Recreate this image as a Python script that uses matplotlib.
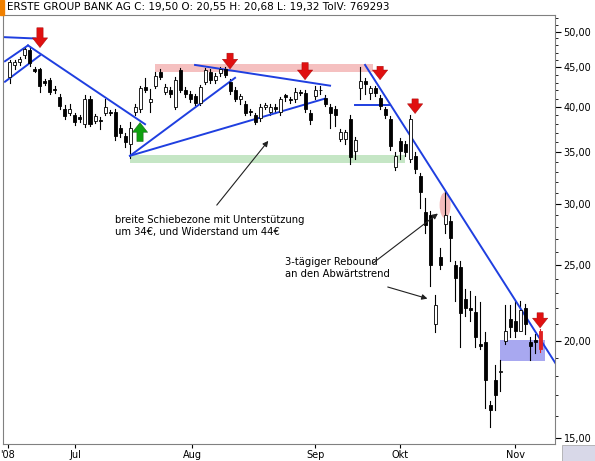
import matplotlib
matplotlib.use("Agg")
import matplotlib.pyplot as plt
from matplotlib.patches import Rectangle, Ellipse
from matplotlib.ticker import FixedLocator, FuncFormatter, NullFormatter

opens = [43.7,45.3,45.7,46.6,47.3,44.8,44.7,43.2,43.3,42.2,41.2,39.7,39.3,39.0,38.8,38.0,40.9,38.4,38.5,39.3,
         39.4,39.4,37.6,36.7,35.8,39.4,39.7,42.4,40.6,42.6,44.3,41.8,42.1,40.0,44.6,42.1,41.6,41.3,40.5,43.1,
         44.4,43.3,44.2,44.7,43.1,42.1,41.0,40.4,39.5,39.0,38.7,40.0,39.4,40.0,39.4,41.4,40.9,40.9,41.8,41.7,
         39.3,41.3,42.1,41.1,40.0,39.8,36.4,36.4,38.6,35.1,42.3,43.2,41.7,42.3,41.1,39.7,38.6,33.5,36.1,35.8,
         34.3,34.6,32.6,29.3,29.0,21.0,25.6,28.3,28.5,25.0,24.9,22.6,22.0,21.8,19.8,19.9,16.5,17.8,18.2,20.0,
         21.3,21.2,20.6,22.0,19.9,20.05,20.55]
closes = [45.7,45.7,46.1,47.5,45.6,44.5,42.5,43.0,41.8,42.0,40.1,38.9,39.8,38.3,38.6,40.9,38.0,38.9,38.4,40.0,
          39.3,36.7,37.0,36.0,37.6,40.0,42.3,42.1,40.9,43.8,43.7,42.4,41.5,43.3,42.1,41.5,40.9,40.5,42.4,44.6,
          43.3,43.8,44.7,44.0,41.9,41.0,41.3,39.3,39.4,38.3,40.0,40.2,40.0,39.7,40.9,41.2,40.8,41.8,41.7,39.7,
          38.5,42.1,42.0,40.4,39.3,39.0,37.1,37.1,34.5,36.3,43.2,42.8,42.3,41.7,40.1,39.0,35.6,34.6,35.1,35.0,
          38.6,33.3,31.1,28.2,25.0,22.2,25.0,29.0,27.1,24.1,21.7,22.0,21.9,20.2,19.7,17.8,16.3,17.0,18.3,20.6,
          20.8,20.6,21.9,21.0,19.7,19.9,19.5]
highs = [46.0,46.0,46.4,47.8,47.6,45.0,44.9,43.5,43.6,42.5,41.6,40.2,40.3,39.3,39.0,41.4,41.3,39.2,38.8,41.0,
         39.6,39.7,37.9,37.0,38.2,40.4,42.6,43.6,42.2,44.3,44.7,42.8,42.4,43.7,44.9,42.4,41.9,41.6,42.7,44.9,
         44.7,44.2,45.0,45.0,43.4,42.4,41.6,40.7,39.8,39.3,40.3,40.5,40.4,40.3,41.2,41.6,41.2,42.3,42.0,42.0,
         39.6,42.6,42.6,41.4,40.3,40.1,37.5,37.4,39.0,36.6,45.0,43.6,42.6,42.6,41.4,40.0,38.9,35.0,36.5,36.2,
         39.0,35.0,32.9,30.5,29.4,22.9,26.3,31.2,28.9,25.3,25.3,23.3,23.2,22.8,22.4,20.5,16.7,18.6,18.9,22.2,
         22.2,22.5,22.5,22.3,20.2,20.4,20.68]
lows = [43.0,44.8,45.3,46.3,45.2,44.3,41.8,42.7,41.5,41.7,39.8,38.6,39.0,37.9,38.3,37.7,37.8,38.1,37.5,39.0,
        39.0,36.3,36.6,35.5,34.4,39.0,39.4,41.8,39.4,42.3,43.4,41.5,41.2,39.7,41.8,41.2,40.6,40.2,40.2,42.8,
        42.9,43.0,43.9,43.7,41.6,40.7,40.4,39.0,39.1,38.0,38.4,39.7,39.1,39.3,39.1,40.7,40.5,40.6,41.4,39.4,
        38.0,41.0,41.5,40.1,37.6,37.8,36.1,35.8,33.8,34.3,41.0,41.6,41.0,41.3,39.7,38.7,35.2,33.2,34.3,34.6,
        34.0,32.9,29.6,27.5,23.5,20.5,24.7,27.5,25.3,22.5,19.6,21.5,21.2,19.6,19.5,16.4,15.5,16.3,17.2,19.8,
        20.2,20.2,20.8,20.4,18.9,19.3,19.32]

xtick_pos = [-0.4, 13, 36.4, 61, 78, 101]
xtick_labels = ["'08", "Jul", "Aug", "Sep", "Okt", "Nov"]
ytick_vals = [15, 20, 25, 30, 35, 40, 45, 50]

fig = plt.figure(figsize=(5.95, 4.61), dpi=100)
ax = fig.add_axes([0.005, 0.036, 0.928, 0.931])
ax.set_yscale("log")
ax.set_xlim(-1.4, 109)
ax.set_ylim(14.7, 52.5)

blue = "#1f3fe0"
ax.add_patch(Rectangle((29, 44.3), 43.5, 1.1, color="#f5c0c0", lw=0, zorder=0))
ax.add_patch(Rectangle((24, 33.9), 55, 0.75, color="#c5e6c5", lw=0, zorder=0))
ax.add_patch(Rectangle((98, 18.8), 9, 1.25, color="#a8a8f0", lw=0, zorder=0))
ax.add_patch(Ellipse((87, 29.9), 2.2, 2.3, color="#f0a0a0", alpha=0.7, lw=0, zorder=0))

for i in range(len(opens)):
    o, c, h, l = opens[i], closes[i], highs[i], lows[i]
    red = i == len(opens) - 1
    col = "#e02020" if red else "black"
    ax.plot([i, i], [l, h], color=col, lw=0.8, zorder=2)
    lo, hi = min(o, c), max(o, c)
    face = col if (c < o or red) else "white"
    ax.add_patch(Rectangle((i - 0.3, lo), 0.6, max(hi - lo, 0.08), facecolor=face,
                           edgecolor=col, lw=0.6, zorder=3))

lw = 1.4
ax.plot([-1.4, 5], [49.2, 49.0], color=blue, lw=lw)
ax.plot([-1.0, 3.6], [45.8, 48.0], color=blue, lw=lw)
ax.plot([-1.0, 6], [43.1, 46.6], color=blue, lw=lw)
ax.plot([3.6, 27], [48.0, 38.0], color=blue, lw=lw)
ax.plot([24, 45], [34.6, 43.6], color=blue, lw=lw)
ax.plot([24, 63], [34.6, 41.0], color=blue, lw=lw)
ax.plot([37, 64], [45.3, 42.6], color=blue, lw=lw)
ax.plot([69, 76], [40.2, 40.2], color=blue, lw=lw)
ax.plot([71, 110], [45.3, 18.3], color=blue, lw=lw)

def arrow(x, ytop, ybot, color, up=False):
    style = "simple,head_width=1.1,head_length=0.7,tail_width=0.45"
    if up:
        ax.annotate("", xy=(x, ytop), xytext=(x, ybot),
                    arrowprops=dict(arrowstyle=style, fc=color, ec="#105010", lw=0.3), zorder=5)
    else:
        ax.annotate("", xy=(x, ybot), xytext=(x, ytop),
                    arrowprops=dict(arrowstyle=style, fc=color, ec="#a00000", lw=0.3), zorder=5)

arrow(6, 51.0, 47.3, "#e01010")
arrow(44, 47.3, 44.4, "#e01010")
arrow(59, 46.0, 43.0, "#e01010")
arrow(74, 45.5, 43.0, "#e01010")
arrow(81, 41.3, 38.9, "#e01010")
arrow(106, 21.9, 20.6, "#e01010")
arrow(26, 38.5, 35.8, "#10a010", up=True)

ax.text(21, 29.0, "breite Schiebezone mit Unterstützung\num 34€, und Widerstand um 44€",
        fontsize=7.2, va="top", ha="left")
ax.annotate("", xy=(52, 36.4), xytext=(41, 29.7),
            arrowprops=dict(arrowstyle="-|>", color="#202020", lw=0.8, mutation_scale=8))
ax.text(55, 25.6, "3-tägiger Rebound\nan den Abwärtstrend", fontsize=7.2, va="top", ha="left")
ax.annotate("", xy=(86, 29.3), xytext=(72, 25.0),
            arrowprops=dict(arrowstyle="-|>", color="#202020", lw=0.8, mutation_scale=8))
ax.annotate("", xy=(84, 22.6), xytext=(75, 23.5),
            arrowprops=dict(arrowstyle="-|>", color="#202020", lw=0.8, mutation_scale=8))

ax.yaxis.tick_right()
ax.yaxis.set_major_locator(FixedLocator(ytick_vals))
ax.yaxis.set_major_formatter(FuncFormatter(lambda v, p: f"{v:.2f}".replace(".", ",")))
ax.yaxis.set_minor_locator(FixedLocator([v for v in range(15, 53)]))
ax.yaxis.set_minor_formatter(NullFormatter())
ax.tick_params(axis="y", which="major", labelsize=7, length=4, direction="out", pad=2)
ax.tick_params(axis="y", which="minor", length=2, direction="out")
ax.set_xticks(xtick_pos)
ax.set_xticklabels(xtick_labels)
ax.tick_params(axis="x", labelsize=7, length=3, pad=1)
for s in ax.spines.values():
    s.set_color("#808080")
    s.set_linewidth(0.8)

fig.text(0.012, 0.985, "ERSTE GROUP BANK AG C: 19,50 O: 20,55 H: 20,68 L: 19,32 TolV: 769293",
         fontsize=7.5, va="center", ha="left")
fig.add_artist(Rectangle((0, 0.968), 0.006, 0.032, transform=fig.transFigure, color="#f08000"))
fig.add_artist(Rectangle((0.945, 0.0), 0.055, 0.034, transform=fig.transFigure,
                         facecolor="#d8d8e8", edgecolor="#a0a0a0", lw=0.5))
fig.savefig("out.png", dpi=100)
